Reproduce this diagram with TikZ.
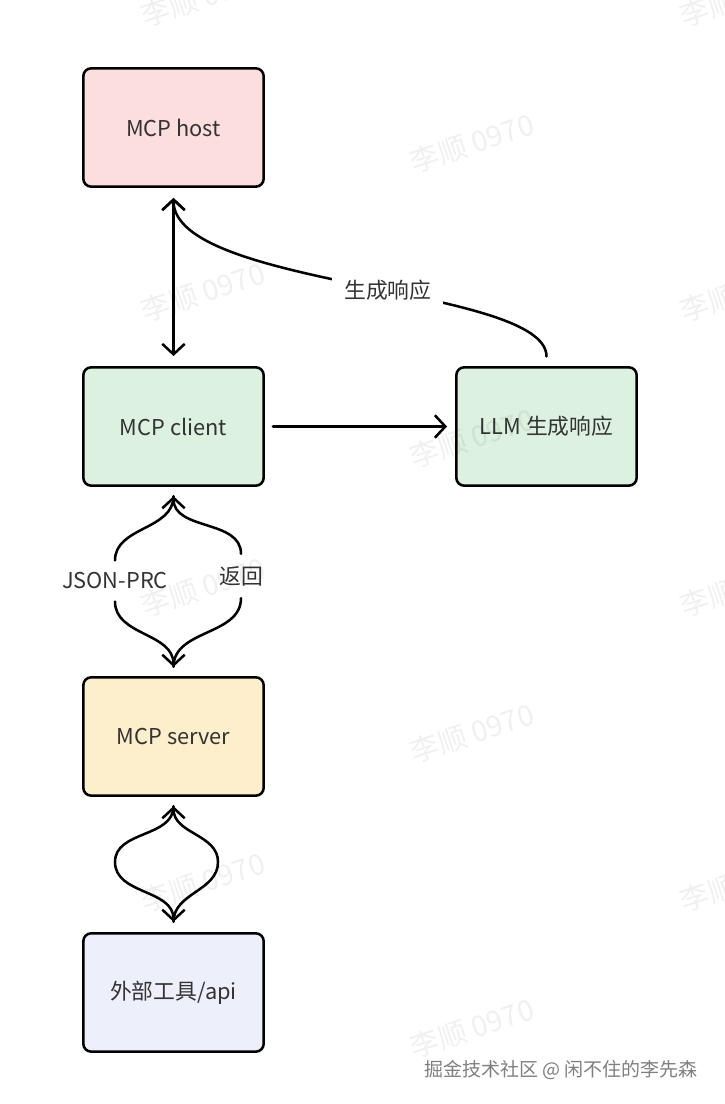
\documentclass[tikz,border=0pt]{standalone}
\usepackage{fontspec}
\setmainfont{Noto Sans CJK SC}
\usepackage{tikz}
\usetikzlibrary{arrows.meta}

\definecolor{hostfill}{HTML}{FCDEDE}
\definecolor{clientfill}{HTML}{DCF1DF}
\definecolor{serverfill}{HTML}{FDEFCB}
\definecolor{toolfill}{HTML}{EDEFFA}
\definecolor{txt}{HTML}{333333}
\definecolor{creditgray}{HTML}{7F7F7F}

\tikzset{
  box/.style={draw=black, line width=1.8pt, rounded corners=0.2cm,
    minimum width=4.51cm, minimum height=2.96cm, inner sep=0pt,
    text=txt, font=\fontsize{15.5}{18}\selectfont},
  link/.style={line width=1.8pt, line cap=round, line join=round},
  lbl/.style={fill=white, text=txt, inner xsep=0.3cm, inner ysep=0.3cm,
    font=\fontsize{15.5}{18}\selectfont},
  wmark/.style={text=black, text opacity=0.06, rotate=18.5,
    font=\fontsize{20.5}{24}\selectfont},
  credit/.style={text=creditgray, font=\fontsize{13.5}{16}\selectfont}
}

\begin{document}
\begin{tikzpicture}[>={Straight Barb[length=2.6mm,width=5.6mm]}]
  \fill[white] (0,0) rectangle (18.1,27.6);
  \useasboundingbox (0,0) rectangle (18.1,27.6);

  % Boxes
  \node[box, fill=hostfill] (host) at (4.3375,24.4125) {MCP host};
  \node[box, fill=clientfill] (client) at (4.3375,16.9375) {MCP client};
  \node[box, fill=clientfill] (llm) at (13.6625,16.9375) {LLM 生成响应};
  \node[box, fill=serverfill] (server) at (4.3375,9.1875) {MCP server};
  \node[box, fill=toolfill] (tools) at (4.3375,2.7875) {外部工具/api};

  % host <-> client, client -> LLM
  \draw[link, <->, shorten <=0.25cm, shorten >=0.25cm] (host) -- (client);
  \draw[link, ->, shorten <=0.2cm, shorten >=0.2cm] (client) -- (llm);

  % LLM back to host
  \draw[link, ->] ([yshift=0.24cm]llm.north)
    .. controls +(0,1.75) and +(0,-2.25) .. ([yshift=-0.25cm]host.south)
    node[lbl, pos=0.45] (resp) {生成响应};

  % client <-> server
  \coordinate (ctop) at ([yshift=-0.23cm]client.south);
  \coordinate (cbot) at ([yshift=0.23cm]server.north);
  \node[lbl] (json) at (2.875,13.075) {JSON-PRC};
  \node[lbl] (ret) at (6.025,13.2) {返回};
  \draw[link, ->] (ctop) to[out=-90,in=90] (json.north)
    (json.south) to[out=-90,in=90] (cbot);
  \draw[link, ->] (cbot) to[out=90,in=-90] (ret.south)
    (ret.north) to[out=90,in=-90] (ctop);

  % server <-> tools
  \coordinate (stop) at ([yshift=-0.23cm]server.south);
  \coordinate (sbot) at ([yshift=0.255cm]tools.north);
  \coordinate (sl) at (2.875,6.05);
  \coordinate (sr) at (5.45,6.05);
  \draw[link, ->] (stop) to[out=-90,in=90] (sl) to[out=-90,in=90] (sbot);
  \draw[link, ->] (sbot) to[out=90,in=-90] (sr) to[out=90,in=-90] (stop);

  % watermarks
  \foreach [count=\i] \x/\y in {5.075/27.675, 5.075/20.3, 5.075/12.925, 5.075/5.55,
      11.8/24.025, 11.8/16.65, 11.8/9.275, 11.8/1.9,
      18.55/27.675, 18.55/20.3, 18.55/12.925, 18.55/5.55}
    \node[wmark] (wm\i) at (\x,\y) {李顺 0970};
  \node[credit] (credit) at (14.025,0.85) {掘金技术社区 @ 闲不住的李先森};
\end{tikzpicture}
\end{document}
